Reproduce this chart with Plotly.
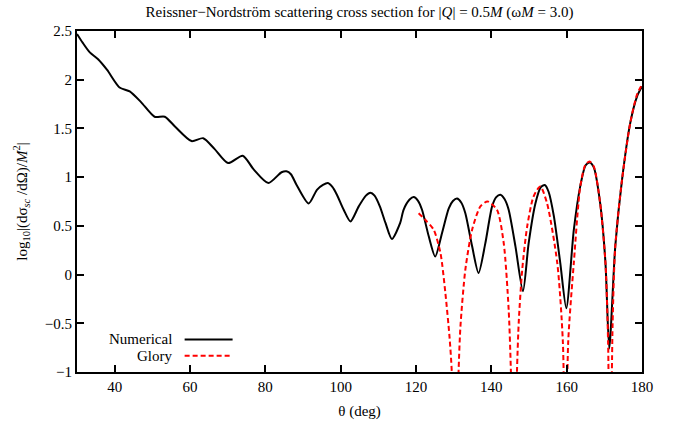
import plotly.graph_objects as go

# Numerical cross section (log10)
num_theta = [30, 31.5, 33.4, 35.6, 38, 41.3, 44, 47, 50.6, 53.3, 56, 60.4, 63.5, 66.5,
             70.1, 74.0, 76.9, 80.8, 84.3, 85.6, 86.8, 88.3, 91.5, 93.7, 95.3, 96.6, 97.8,
             99.0, 100.8, 102.6, 104.8, 106.7, 107.9, 109.0, 110.4, 111.9, 113.6, 115.8,
             116.7, 118.3, 119.4, 120.5,
             121.6, 123.4, 125.1, 126.9, 128.7, 129.8, 130.9, 132.0, 133.1, 134.9, 136.6,
             138.4, 140.2, 141.3, 142.4, 143.5, 144.6, 146.4, 148.4, 149.9, 151.7, 153.1,
             154.2, 155.2, 156.6, 158.3, 159.9, 161.9, 163.6, 165.0, 166.1, 167.2, 168.9,
             170.3, 171.3, 172.9, 174.7, 176.9, 178.7, 180]
num_val = [2.47, 2.38, 2.28, 2.21, 2.10, 1.92, 1.88, 1.77, 1.62, 1.62, 1.52, 1.37, 1.40, 1.29,
           1.145, 1.22, 1.08, 0.94, 1.05, 1.06, 1.03, 0.92, 0.73, 0.87, 0.92, 0.94, 0.90,
           0.82, 0.665, 0.545, 0.70, 0.81, 0.84, 0.81, 0.70, 0.53, 0.365, 0.53,
           0.665, 0.77, 0.796, 0.76,
           0.665, 0.39, 0.185, 0.425, 0.68, 0.755, 0.78, 0.74, 0.63, 0.29, 0.015,
           0.32, 0.70, 0.795, 0.82, 0.775, 0.665, 0.29, -0.17, 0.32, 0.73, 0.895,
           0.92, 0.85, 0.60, 0.12, -0.345, 0.46, 0.905, 1.12, 1.15, 1.10, 0.73,
           0.12, -0.76, 0.29, 0.975, 1.56, 1.83, 1.93]

# Glory approximation (log10)
glory_theta = [120.7, 122.5, 124.7, 126.5, 127.8, 128.9, 129.5, 130.4, 131.3, 131.8, 133.1,
               134.9, 137.1, 139.0, 141.5, 143.3, 144.6, 145.2, 146.0, 146.8, 147.3, 148.2,
               149.5, 151.2, 153.0, 154.8, 157.5, 159.0, 159.7, 160.4, 161.9, 163.6,
               165.0, 166.1, 167.2, 168.9, 170.3, 171.0, 171.5, 172.2, 172.9, 174.7, 176.9,
               178.7, 180]
glory_val = [0.63, 0.56, 0.46, 0.22, -0.19, -0.64, -1.0, -2.5, -1.0, -0.53, 0.05,
             0.46, 0.70, 0.75, 0.665, 0.32, -0.36, -1.0, -2.5, -1.0, -0.47, 0.05,
             0.49, 0.80, 0.905, 0.73, 0.12, -0.7, -2.5, -0.7, 0.12, 0.90,
             1.13, 1.16, 1.11, 0.73, 0.12, -0.7, -2.5, -0.5, 0.29, 0.975, 1.56,
             1.85, 1.95]

x_ticks = [40, 60, 80, 100, 120, 140, 160, 180]
y_ticks = [-1, -0.5, 0, 0.5, 1, 1.5, 2, 2.5]

FONT = "Liberation Serif"

fig = go.Figure()
fig.add_trace(go.Scatter(x=num_theta, y=num_val, mode="lines", name="Numerical",
                         line=dict(color="black", width=2, shape="spline", smoothing=0.7),
                         showlegend=False))
fig.add_trace(go.Scatter(x=glory_theta, y=glory_val, mode="lines", name="Glory",
                         line=dict(color="#ff0000", width=2, dash="5px,3px",
                                   shape="spline", smoothing=0.7),
                         showlegend=False))

# legend drawn gnuplot-style: label text followed by sample line
legend_items = [("Numerical", "black", "solid", 0.0955), ("Glory", "#ff0000", "5px,3px", 0.0479)]
for label, col, dash, yp in legend_items:
    fig.add_annotation(xref="paper", yref="paper", x=0.171, y=yp, text=label,
                       showarrow=False, xanchor="right", yanchor="middle",
                       font=dict(family=FONT, size=15, color="black"))
    fig.add_shape(type="line", xref="paper", yref="paper", x0=0.1905, x1=0.2754,
                  y0=yp, y1=yp, line=dict(color=col, width=2, dash=dash))

axis_common = dict(showline=True, linecolor="black", linewidth=2, mirror="ticks",
                   ticks="inside", ticklen=7, tickwidth=1.5, tickcolor="black",
                   showgrid=False, zeroline=False, automargin=False,
                   tickfont=dict(family=FONT, size=15, color="black"))

fig.update_xaxes(range=[30, 180], tickvals=x_ticks,
                 title=dict(text="θ (deg)", font=dict(family=FONT, size=15, color="black"),
                            standoff=11),
                 **axis_common)
fig.update_yaxes(range=[-1, 2.5], tickvals=y_ticks,
                 title=dict(text="log<sub>10</sub>|(dσ<sub><i>sc</i></sub> /dΩ)/<i>M</i><sup>2</sup>|",
                            font=dict(family=FONT, size=15, color="black"), standoff=14),
                 **axis_common)

fig.update_layout(
    width=675, height=421,
    margin=dict(l=77, r=33, t=31, b=49),
    paper_bgcolor="white", plot_bgcolor="white",
    title=dict(text="Reissner−Nordström scattering cross section for |<i>Q</i>| = 0.5<i>M</i> (ω<i>M</i> = 3.0)",
               x=0.5, xref="paper", y=1 - 12 / 421, yref="container", yanchor="middle",
               font=dict(family=FONT, size=15, color="black")),
)

fig.write_html("out.html")
